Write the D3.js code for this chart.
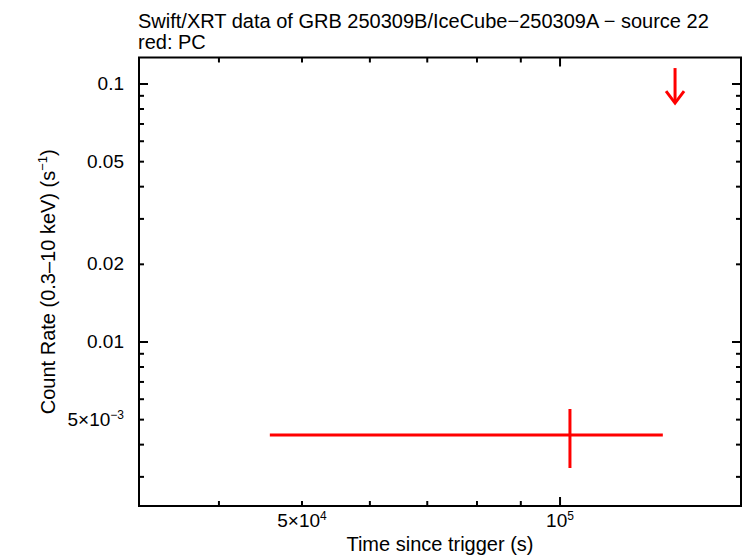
<!DOCTYPE html>
<html>
<head>
    <meta charset="utf-8">
    <script src="https://cdn.jsdelivr.net/npm/d3@7"></script>
    <style>
        body { margin: 0; background: #fff; }
        text { font-family: "Liberation Sans", Arial, sans-serif; fill: #000; }
    </style>
</head>
<body>
<svg width="746" height="558"></svg>
<script>
    // data
    const titleLines = ["Swift/XRT data of GRB 250309B/IceCube\u2212250309A \u2212 source 22", "red: PC"];
    const pcTime = [102700];
    const pcTimeLo = [45860];
    const pcTimeHi = [131800];
    const pcRate = [0.004359];
    const pcRateLo = [0.003247];
    const pcRateHi = [0.005499];
    const ulTime = [136200];
    const ulRate = [0.1153];
    const xTickVals = [5e4, 1e5];
    const xTickLabels = [["5\u00d710", "4"], ["10", "5"]];
    const yTickVals = [0.1, 0.05, 0.02, 0.01, 0.005];
    const yTickLabels = [["0.1"], ["0.05"], ["0.02"], ["0.01"], ["5\u00d710", "\u22123"]];

    const plotL = 139, plotR = 741, plotT = 57.5, plotB = 506;
    const svg = d3.select("svg");

    const x = d3.scaleLog().domain([32270, 162600]).range([plotL, plotR]);
    const y = d3.scaleLog().domain([0.002313, 0.1267]).range([plotB, plotT]);

    // minor + major ticks, mirrored on all four sides
    const xAll = [];
    for (let d = 1e4; d <= 1e5; d *= 10) for (let k = 1; k < 10; k++) xAll.push(k * d);
    const xIn = xAll.filter(v => v >= x.domain()[0] && v <= x.domain()[1]);
    const yAll = [];
    for (let d = 1e-3; d <= 0.1; d *= 10) for (let k = 1; k < 10; k++) yAll.push(k * d);
    const yIn = yAll.filter(v => v >= y.domain()[0] && v <= y.domain()[1]);

    const isMajor = v => Math.abs(Math.log10(v) - Math.round(Math.log10(v))) < 1e-6;
    const ticks = svg.append("g").attr("stroke", "#000").attr("stroke-width", 2);
    xIn.forEach(v => {
        const len = isMajor(v) ? 9 : 5;
        ticks.append("line").attr("x1", x(v)).attr("x2", x(v)).attr("y1", plotB).attr("y2", plotB - len);
        ticks.append("line").attr("x1", x(v)).attr("x2", x(v)).attr("y1", plotT).attr("y2", plotT + len);
    });
    yIn.forEach(v => {
        const len = isMajor(v) ? 9 : 5;
        ticks.append("line").attr("y1", y(v)).attr("y2", y(v)).attr("x1", plotL).attr("x2", plotL + len);
        ticks.append("line").attr("y1", y(v)).attr("y2", y(v)).attr("x1", plotR).attr("x2", plotR - len);
    });

    svg.append("rect")
        .attr("x", plotL).attr("y", plotT)
        .attr("width", plotR - plotL).attr("height", plotB - plotT)
        .attr("fill", "none").attr("stroke", "#000").attr("stroke-width", 2);

    // tick labels
    xTickVals.forEach((v, i) => {
        const t = svg.append("text").attr("x", x(v)).attr("y", 527)
            .attr("text-anchor", "middle").attr("font-size", 19);
        t.append("tspan").text(xTickLabels[i][0]);
        t.append("tspan").attr("dy", -7).attr("font-size", 12).text(xTickLabels[i][1]);
    });
    yTickVals.forEach((v, i) => {
        const t = svg.append("text").attr("x", 124).attr("y", y(v) + 6)
            .attr("text-anchor", "end").attr("font-size", 19);
        t.append("tspan").text(yTickLabels[i][0]);
        if (yTickLabels[i][1]) t.append("tspan").attr("dy", -7).attr("font-size", 12).text(yTickLabels[i][1]);
    });

    // titles
    titleLines.forEach((s, i) => {
        svg.append("text").attr("x", 138).attr("y", 28 + i * 21).attr("font-size", 20).text(s);
    });
    svg.append("text").attr("x", (plotL + plotR) / 2).attr("y", 551)
        .attr("text-anchor", "middle").attr("font-size", 20).text("Time since trigger (s)");
    const yt = svg.append("text").attr("transform", "translate(55," + ((plotT + plotB) / 2) + ") rotate(-90)")
        .attr("text-anchor", "middle").attr("font-size", 20);
    yt.append("tspan").text("Count Rate (0.3\u201310 keV) (s");
    yt.append("tspan").attr("dy", -8).attr("font-size", 13).text("\u22121");
    yt.append("tspan").attr("dy", 8).text(")");

    // data: PC point with error bars
    const pts = svg.append("g").attr("stroke", "#ff0000").attr("stroke-width", 3);
    pcTime.forEach((t, i) => {
        pts.append("line").attr("x1", x(pcTimeLo[i])).attr("x2", x(pcTimeHi[i]))
            .attr("y1", y(pcRate[i])).attr("y2", y(pcRate[i]));
        pts.append("line").attr("x1", x(t)).attr("x2", x(t))
            .attr("y1", y(pcRateLo[i])).attr("y2", y(pcRateHi[i]));
    });

    // upper limit arrow
    ulTime.forEach((t, i) => {
        const cx = x(t), y0 = y(ulRate[i]), y1 = y0 + 35;
        pts.append("line").attr("x1", cx).attr("x2", cx).attr("y1", y0).attr("y2", y1);
        pts.append("path").attr("fill", "none")
            .attr("d", "M" + (cx - 9) + "," + (y1 - 12) + "L" + cx + "," + y1 + "L" + (cx + 9) + "," + (y1 - 12));
    });
</script>
</body>
</html>
